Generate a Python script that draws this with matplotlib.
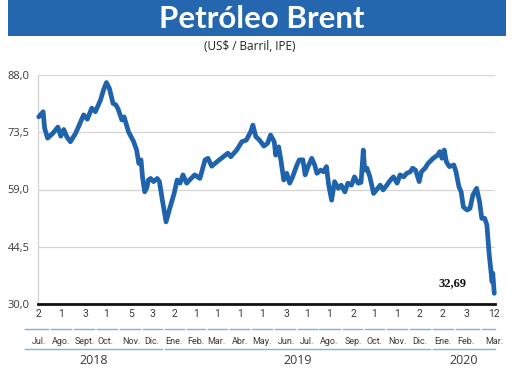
import numpy as np
import pandas as pd
import matplotlib
matplotlib.use("Agg")
import matplotlib.pyplot as plt
import matplotlib.dates as mdates
from matplotlib import transforms
from matplotlib.patches import Rectangle

# Brent price, US$ per barrel
dates = [
    "2018-07-02", "2018-07-08", "2018-07-10", "2018-07-14", "2018-07-21", "2018-07-28",
    "2018-08-01", "2018-08-05", "2018-08-09", "2018-08-14", "2018-08-21", "2018-08-26",
    "2018-09-01", "2018-09-06", "2018-09-12", "2018-09-17", "2018-09-24", "2018-09-28",
    "2018-10-02", "2018-10-06", "2018-10-11", "2018-10-15", "2018-10-18", "2018-10-23",
    "2018-10-26", "2018-11-01", "2018-11-08", "2018-11-12", "2018-11-15", "2018-11-18",
    "2018-11-20", "2018-11-23", "2018-11-26", "2018-11-28", "2018-12-01", "2018-12-05",
    "2018-12-10", "2018-12-13", "2018-12-17", "2018-12-22", "2018-12-27", "2019-01-02",
    "2019-01-06", "2019-01-10", "2019-01-14", "2019-01-19", "2019-01-24", "2019-01-30",
    "2019-02-06", "2019-02-13", "2019-02-17", "2019-02-22", "2019-03-01", "2019-03-10",
    "2019-03-16", "2019-03-20", "2019-03-28", "2019-04-04", "2019-04-10", "2019-04-16",
    "2019-04-19", "2019-04-23", "2019-04-28", "2019-05-04", "2019-05-09", "2019-05-13",
    "2019-05-18", "2019-05-20", "2019-05-24", "2019-05-27", "2019-05-31", "2019-06-04",
    "2019-06-08", "2019-06-12", "2019-06-17", "2019-06-21", "2019-06-26", "2019-06-29",
    "2019-07-03", "2019-07-08", "2019-07-12", "2019-07-15", "2019-07-20", "2019-07-24",
    "2019-07-28", "2019-07-31", "2019-08-04", "2019-08-08", "2019-08-13", "2019-08-17",
    "2019-08-22", "2019-08-26", "2019-08-31", "2019-09-04", "2019-09-09", "2019-09-13",
    "2019-09-16", "2019-09-18", "2019-09-21", "2019-09-25", "2019-09-30", "2019-10-04",
    "2019-10-09", "2019-10-13", "2019-10-18", "2019-10-23", "2019-10-27", "2019-11-01",
    "2019-11-05", "2019-11-10", "2019-11-14", "2019-11-19", "2019-11-22", "2019-11-26",
    "2019-12-01", "2019-12-04", "2019-12-09", "2019-12-13", "2019-12-20", "2019-12-26",
    "2019-12-29", "2020-01-01", "2020-01-04", "2020-01-07", "2020-01-11", "2020-01-17",
    "2020-01-20", "2020-01-24", "2020-01-27", "2020-01-30", "2020-02-04", "2020-02-08",
    "2020-02-12", "2020-02-17", "2020-02-21", "2020-02-24", "2020-02-28", "2020-03-02",
    "2020-03-05", "2020-03-09", "2020-03-10", "2020-03-12",
]
prices = [
    77.4, 78.7, 74.5, 72.0, 73.2, 74.8,
    72.5, 74.2, 72.4, 71.1, 73.2, 75.3,
    77.9, 76.8, 79.6, 78.7, 81.7, 84.2,
    86.1, 84.6, 80.8, 80.4, 79.3, 76.6,
    77.4, 73.6, 71.1, 69.0, 65.6, 66.5,
    62.2, 58.4, 59.5, 61.4, 61.8, 61.0,
    61.8, 61.0, 56.3, 50.8, 54.2, 58.0,
    61.4, 60.6, 62.7, 60.6, 61.6, 62.7,
    61.8, 66.5, 66.9, 64.9, 66.0, 67.3,
    68.2, 67.3, 69.0, 71.1, 71.5, 73.6,
    75.3, 72.4, 71.5, 70.0, 70.7, 72.8,
    71.1, 67.7, 69.8, 66.5, 61.4, 63.1,
    60.6, 62.2, 64.8, 66.5, 66.5, 62.7,
    64.8, 66.9, 65.2, 63.1, 63.9, 63.5,
    64.8, 60.1, 56.3, 61.0, 59.3, 60.1,
    58.4, 60.6, 60.1, 62.2, 60.6, 60.8,
    69.0, 63.9, 64.4, 62.2, 58.0, 58.9,
    60.1, 58.9, 60.1, 61.4, 62.2, 60.6,
    62.7, 62.2, 63.1, 63.5, 64.4, 63.9,
    61.0, 63.5, 64.4, 65.6, 66.9, 67.7,
    68.6, 66.9, 69.0, 66.0, 64.8, 65.2,
    63.5, 59.7, 58.4, 54.6, 53.8, 54.2,
    57.6, 59.3, 55.9, 51.7, 51.7, 50.0,
    42.8, 35.6, 37.8, 32.69,
]

y_ticks = [30.0, 44.5, 59.0, 73.5, 88.0]
label_dates = [
    "2018-07-02", "2018-08-01", "2018-09-03", "2018-10-01", "2018-11-05", "2018-12-03",
    "2019-01-02", "2019-02-01", "2019-03-01", "2019-04-01", "2019-05-01", "2019-06-03",
    "2019-07-01", "2019-08-01", "2019-09-02", "2019-10-01", "2019-11-01", "2019-12-02",
    "2020-01-02", "2020-02-03", "2020-03-12",
]
month_names = ["Jul.", "Ago.", "Sept.", "Oct.", "Nov.", "Dic.",
               "Ene.", "Feb.", "Mar.", "Abr.", "May.", "Jun.", "Jul.", "Ago.", "Sep.", "Oct.", "Nov.", "Dic.",
               "Ene.", "Feb.", "Mar."]
years = ["2018", "2019", "2020"]
last_label = "32,69"

blue = "#1f63ad"
light_blue = "#7eb2e0"
grey_text = "#3a3a3a"

x = mdates.date2num(pd.to_datetime(dates))
lx = mdates.date2num(pd.to_datetime(label_dates))

fig = plt.figure(figsize=(5.2, 3.71), dpi=100)
fig.patch.set_facecolor("white")

# title banner
fig.add_artist(Rectangle((8 / 520, 1 - 36 / 371), 498 / 520, 36 / 371,
                         transform=fig.transFigure, facecolor="#2467af", edgecolor="none"))
fig.text(0.503, 1 - 18.5 / 371, "Petróleo Brent", color="white", fontsize=22.5,
         fontweight="bold", family="Lato", ha="center", va="center")
fig.text(0.481, 1 - 46 / 371, "(US$ / Barril, IPE)", color="#222222", fontsize=8.5,
         family="Open Sans", ha="center", va="center")

ax = fig.add_axes([38 / 520, 1 - 304 / 371, 457 / 520, 229 / 371])
ax.plot(x, prices, color=blue, lw=3.4, solid_joinstyle="round", solid_capstyle="round",
        zorder=3, clip_on=False)
ax.set_ylim(y_ticks[0], y_ticks[-1])
ax.set_xlim(lx[0] - 1, lx[-1] + 1)
ax.set_yticks(y_ticks)
ax.set_yticklabels([f"{v:.1f}".replace(".", ",") for v in y_ticks])
ax.tick_params(axis="y", length=0, pad=6, labelsize=8, labelcolor=grey_text)
ax.set_xticks([])
for t in ax.get_yticklabels():
    t.set_family("Open Sans")
ax.grid(axis="y", color="#d4d4d4", lw=0.9)
ax.set_axisbelow(True)
for s in ["top", "right"]:
    ax.spines[s].set_visible(False)
ax.spines["left"].set_color("#d4d4d4")
ax.spines["left"].set_linewidth(0.9)
ax.spines["bottom"].set_color("#111111")
ax.spines["bottom"].set_linewidth(2.0)
ax.spines["bottom"].set_zorder(4)

ax.text(x[-1] - 57, prices[-1] + 2.6, last_label, family="Liberation Serif",
        fontweight="bold", fontsize=9, color="#111111", ha="center", va="center")

# labels under the axis
tr = transforms.blended_transform_factory(ax.transData, fig.transFigure)
y_day, y_line1, y_month, y_line2, y_year = [1 - v / 371 for v in (314, 329, 342, 349, 361)]

mids = (lx[:-1] + lx[1:]) / 2
left = np.concatenate([[lx[0] - 20], mids])
right = np.concatenate([mids, [lx[-1] + 3]])
gap = 2.0
for i, d in enumerate(pd.to_datetime(label_dates)):
    ax.text(lx[i], y_day, str(d.day), transform=tr, ha="center", va="center",
            fontsize=7.5, color=grey_text, family="Roboto")
    ax.text(lx[i], y_month, month_names[i], transform=tr, ha="center", va="center",
            fontsize=6.5, color=grey_text, family="Roboto")
    ax.plot([left[i] + gap, right[i] - gap], [y_line1, y_line1], transform=tr,
            color=light_blue, lw=1.0, clip_on=False)

label_years = np.array([d.year for d in pd.to_datetime(label_dates)])
for yr in years:
    idx = np.where(label_years == int(yr))[0]
    a, b = left[idx[0]] + gap, right[idx[-1]] - gap
    ax.plot([a, b], [y_line2, y_line2], transform=tr, color=light_blue, lw=1.0, clip_on=False)
    ax.text((a + b) / 2, y_year, yr, transform=tr, ha="center", va="center",
            fontsize=9, color=grey_text, family="Open Sans")

fig.savefig("out.png", dpi=100)
